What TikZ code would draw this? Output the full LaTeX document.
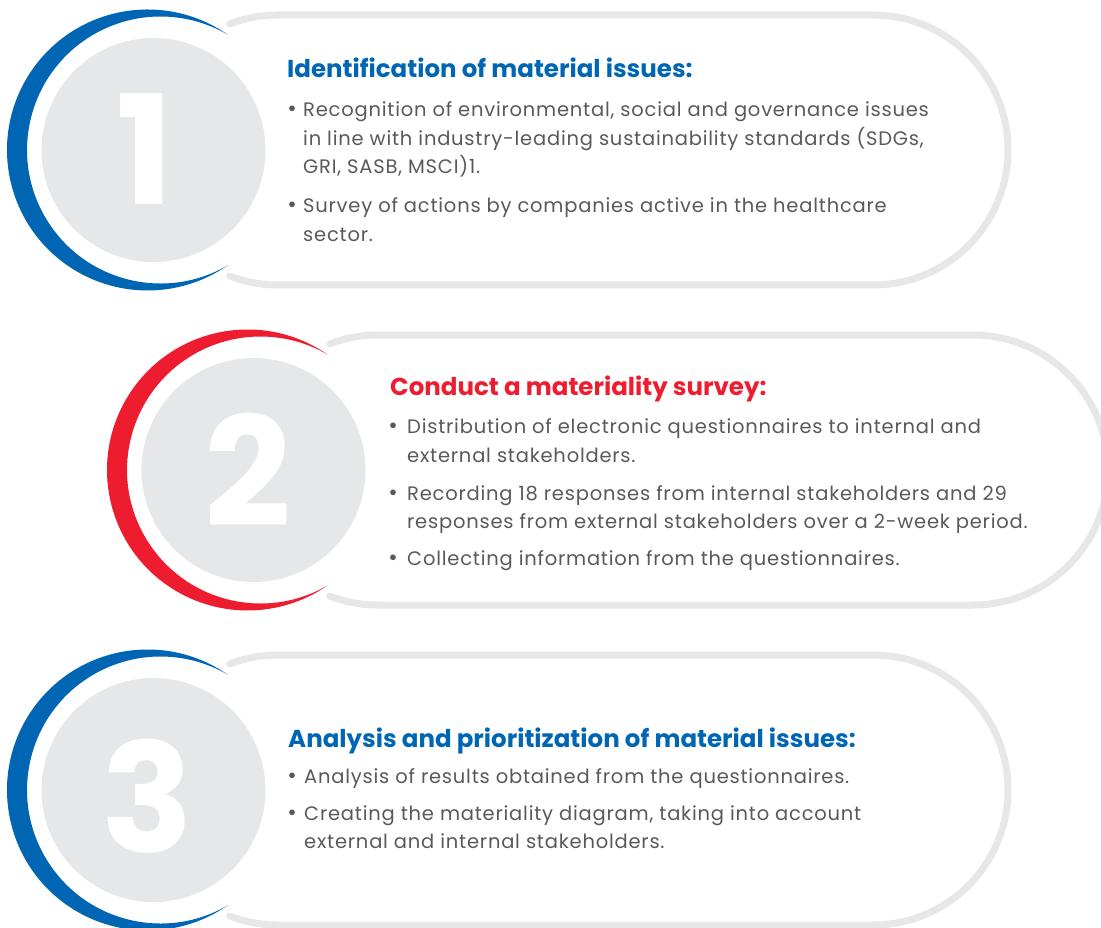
\documentclass[tikz,border=0pt]{standalone}
\usepackage{fontspec}
\setmainfont{Poppins}
\newfontfamily\bodyfont[LetterSpace=4]{Poppins}
\usetikzlibrary{positioning}
\definecolor{stepblue}{HTML}{0066B3}
\definecolor{stepred}{HTML}{ED1C2E}
\definecolor{disk}{HTML}{E6E7E8}
\definecolor{bodygray}{HTML}{58595B}

\begin{document}
\begin{tikzpicture}[x=1pt,y=-1pt]
		\tikzstyle{Pill} = [draw=disk, line width=7pt, line cap=round]
		\tikzstyle{Disk} = [fill=disk]
		\tikzstyle{Num} = [text=white, inner sep=0pt, font=\fontsize{152}{152}\selectfont\bfseries]
		\tikzstyle{Head} = [anchor=base west, inner sep=0pt, font=\fontsize{24.5}{24.5}\selectfont\bfseries]
		\tikzstyle{Body} = [anchor=base west, inner sep=0pt, text=bodygray, font=\bodyfont\fontsize{19.5}{19.5}\selectfont]
		\tikzstyle{Dot} = [anchor=base, inner sep=0pt, text=bodygray, font=\fontsize{23}{23}\selectfont]

		\useasboundingbox (0,0) rectangle (1101,928);

		% pill outline, crescent and grey disk of each step
		\foreach \dx/\dy/\col in {0/0/stepblue, 100/320/stepred, 0/640/stepblue}{
			\begin{scope}[shift={(\dx,\dy)}]
				\draw[Pill] (278,150) ++(-111:135) arc[start angle=-111, end angle=-90, radius=135]
					-- (873,15) arc[start angle=-90, end angle=90, radius=135]
					-- (278,285) arc[start angle=90, end angle=111, radius=135];
				\fill[\col] (147.5,150) ++(-55.2:140.5) arc[start angle=-55.2, end angle=-304.8, radius=140.5]
					arc[start angle=59.8, end angle=300.2, radius=133.5] -- cycle;
				\fill[Disk] (153.5,150) circle (112);
			\end{scope}
		}

		\node (num1) [Num] at (145,149) {1};
		\node (num2) [Num] at (248,470) {2};
		\node (num3) [Num] at (147,796) {3};

		% step 1
		\node (head1) [Head, text=stepblue] at (287,78) {Identification of material issues:};
		\foreach \y [count=\i] in {117,213}
			\node (dot1\i) [Dot] at (292,\y) {•};
		\foreach \y/\t [count=\i] in {117/{Recognition of environmental, social and governance issues},
				146/{in line with industry-leading sustainability standards (SDGs,},
				174/{GRI, SASB, MSCI)1.},
				213/{Survey of actions by companies active in the healthcare},
				242/{sector.}}
			\node (line1\i) [Body] at (303,\y) {\t};

		% step 2
		\node (head2) [Head, text=stepred] at (390,395) {Conduct a materiality survey:};
		\foreach \y [count=\i] in {433,500,565}
			\node (dot2\i) [Dot] at (393,\y) {•};
		\foreach \y/\t [count=\i] in {433/{Distribution of electronic questionnaires to internal and},
				462/{external stakeholders.},
				500/{Recording 18 responses from internal stakeholders and 29},
				528/{responses from external stakeholders over a 2-week period.},
				565/{Collecting information from the questionnaires.}}
			\node (line2\i) [Body] at (407,\y) {\t};

		% step 3
		\node (head3) [Head, text=stepblue] at (288,747) {Analysis and prioritization of material issues:};
		\foreach \y [count=\i] in {783,820}
			\node (dot3\i) [Dot] at (292,\y) {•};
		\foreach \y/\t [count=\i] in {783/{Analysis of results obtained from the questionnaires.},
				820/{Creating the materiality diagram, taking into account},
				848/{external and internal stakeholders.}}
			\node (line3\i) [Body] at (304,\y) {\t};
\end{tikzpicture}
\end{document}
